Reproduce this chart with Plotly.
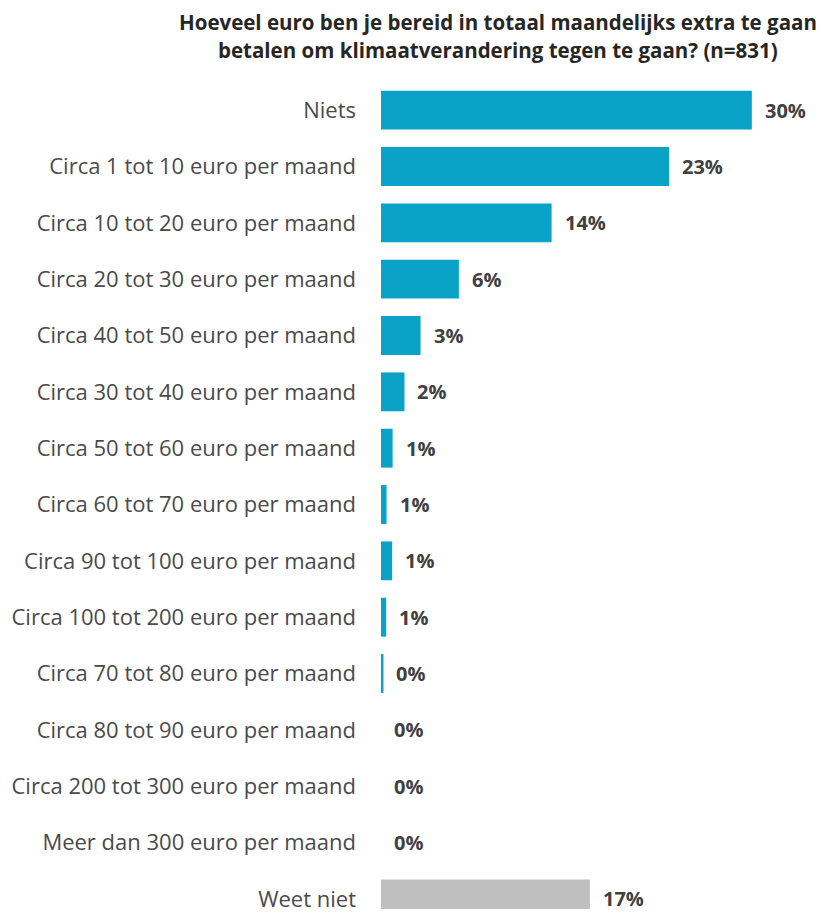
import plotly.graph_objects as go

categories = [
    "Niets",
    "Circa 1 tot 10 euro per maand",
    "Circa 10 tot 20 euro per maand",
    "Circa 20 tot 30 euro per maand",
    "Circa 40 tot 50 euro per maand",
    "Circa 30 tot 40 euro per maand",
    "Circa 50 tot 60 euro per maand",
    "Circa 60 tot 70 euro per maand",
    "Circa 90 tot 100 euro per maand",
    "Circa 100 tot 200 euro per maand",
    "Circa 70 tot 80 euro per maand",
    "Circa 80 tot 90 euro per maand",
    "Circa 200 tot 300 euro per maand",
    "Meer dan 300 euro per maand",
    "Weet niet",
]
values = [30.0, 23.3, 13.8, 6.3, 3.2, 1.9, 0.94, 0.45, 0.9, 0.42, 0.2, 0.0, 0.0, 0.0, 16.9]
value_labels = ["30%", "23%", "14%", "6%", "3%", "2%", "1%", "1%", "1%", "1%", "0%", "0%", "0%", "0%", "17%"]
bar_colors = ["#0AA2C7"] * 14 + ["#BFBFBF"]

title_lines = ["Hoeveel euro ben je bereid in totaal maandelijks extra te gaan",
               "betalen om klimaatverandering tegen te gaan? (n=831)"]

FONT = "Open Sans"

fig = go.Figure()
fig.add_trace(go.Bar(
    x=values, y=categories, orientation="h",
    marker=dict(color=bar_colors, line=dict(width=0)),
    width=0.69, hoverinfo="skip",
))
for v, c, t in zip(values, categories, value_labels):
    fig.add_annotation(x=v, y=c, text="<b>%s</b>" % t, showarrow=False,
                       xanchor="left", yanchor="middle", xshift=11,
                       font=dict(family=FONT, size=20, color="#404040"))

for i, line in enumerate(title_lines):
    fig.add_annotation(xref="paper", yref="paper", x=0.262, y=1, yshift=60 - 28 * i,
                       text="<b>%s</b>" % line, showarrow=False,
                       xanchor="center", yanchor="middle",
                       font=dict(family=FONT, size=20.5, color="#262626"))

fig.update_layout(
    width=818, height=905,
    margin=dict(l=373, r=0, t=74, b=0),
    paper_bgcolor="white", plot_bgcolor="white",
    showlegend=False,
    xaxis=dict(range=[0, 36], visible=False, fixedrange=True),
    yaxis=dict(range=[14.18, -0.5], showgrid=False, zeroline=False, showline=False,
               ticks="", ticklabelstandoff=24,
               tickfont=dict(family=FONT, size=22, color="#4A4A4A")),
)
fig.write_html("out.html")
